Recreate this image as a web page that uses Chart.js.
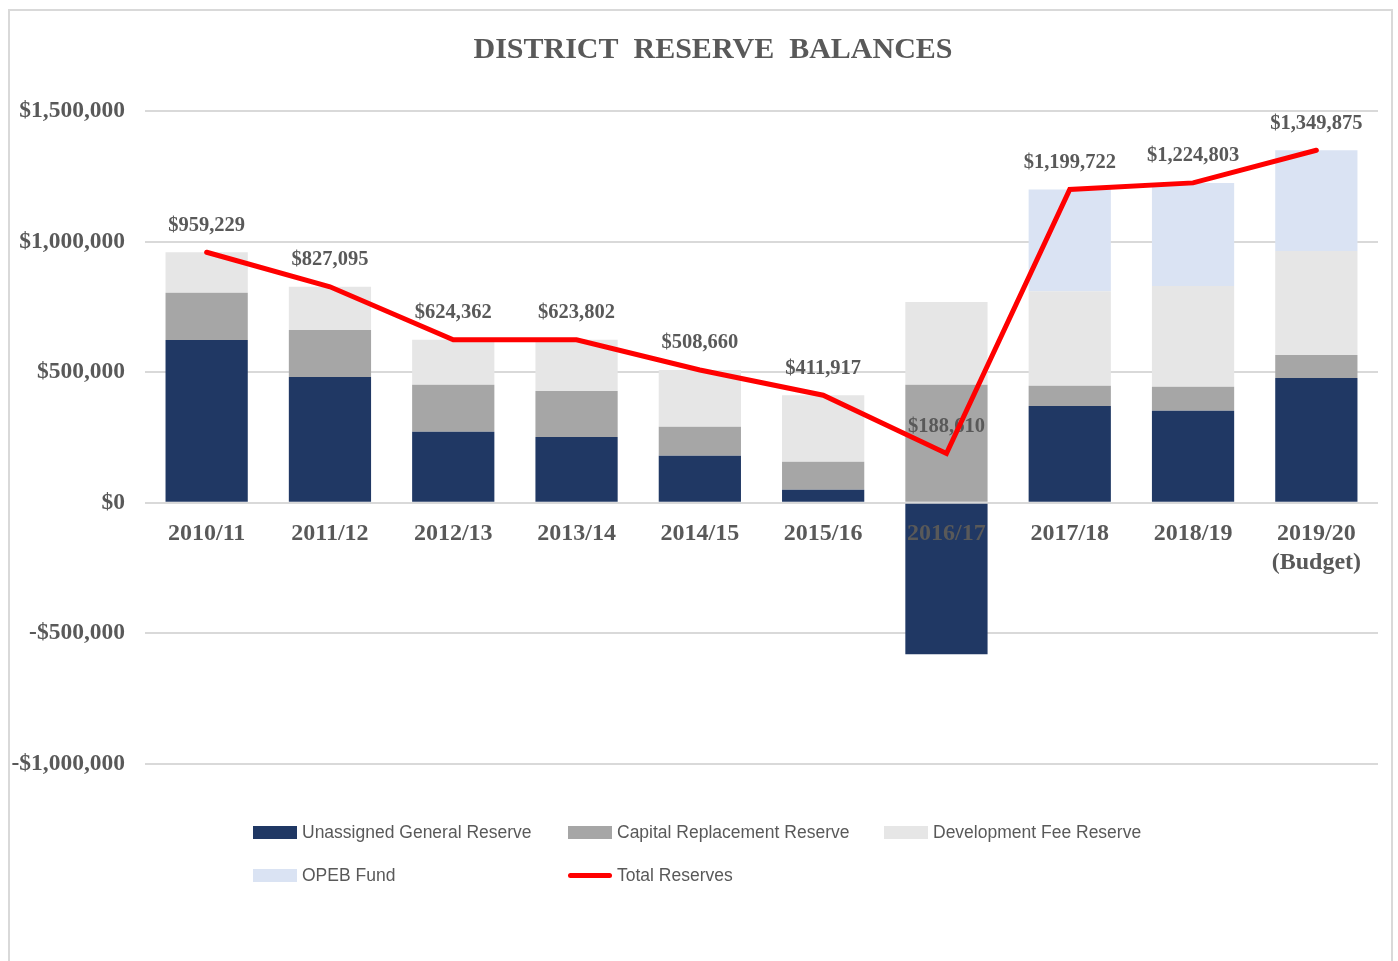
<!DOCTYPE html>
<html>
<head>
<meta charset="utf-8">
<script src="https://cdn.jsdelivr.net/npm/chart.js@4"></script>
<style>
  html, body { margin: 0; padding: 0; background: #fff; }
  #wrap { position: relative; width: 1398px; height: 961px; overflow: hidden; }
  #frame { position: absolute; left: 8px; top: 9px; width: 1385px; height: 970px; border: 2px solid #d9d9d9; box-sizing: border-box; }
  canvas { position: absolute; left: 0; top: 0; }
  #legend { position: absolute; left: 253px; top: 818px; display: grid; grid-template-columns: 315px 316px 316px; row-gap: 15px;
    font-family: 'Liberation Sans', sans-serif; font-size: 17.5px; color: #595959; }
  .item { display: flex; align-items: center; height: 28px; }
  .sw { width: 44px; height: 13px; margin-right: 5px; }
  .ln { width: 44px; height: 5px; border-radius: 3px; margin-right: 5px; }
</style>
</head>
<body>
<div id="wrap">
  <div id="frame"></div>
  <canvas id="reserve-chart" width="1398" height="961"></canvas>
  <div id="legend"></div>
</div>
<script>
var years = ['2010/11', '2011/12', '2012/13', '2013/14', '2014/15', '2015/16', '2016/17', '2017/18', '2018/19', ['2019/20', '(Budget)']];
var unassigned = [623000, 482000, 272000, 252000, 180000, 50000, -580000, 371000, 352000, 478000];
var capital = [181000, 180000, 180000, 176000, 111000, 107000, 452000, 77000, 92000, 88000];
var development = [155229, 165095, 172362, 195802, 217660, 254917, 316610, 362000, 386000, 398000];
var opeb = [0, 0, 0, 0, 0, 0, 0, 389722, 394803, 385875];
var totals = [959229, 827095, 624362, 623802, 508660, 411917, 188610, 1199722, 1224803, 1349875];

var chartTitle = 'DISTRICT  RESERVE  BALANCES';
var serif = "'Liberation Serif', 'Times New Roman', serif";
var textGray = '#595959';

function money(v) {
  var s = '$' + Math.abs(v).toLocaleString('en-US');
  return v < 0 ? '-' + s : s;
}

// title sits a little right of the canvas centre, like the original
const titleText = {
  id: 'titleText',
  afterDraw(chart) {
    var ctx = chart.ctx;
    ctx.save();
    ctx.font = 'bold 30px ' + serif;
    ctx.fillStyle = textGray;
    ctx.textAlign = 'center';
    ctx.textBaseline = 'middle';
    ctx.fillText(chartTitle, 713, 50);
    ctx.restore();
  }
};

// labels for the total line: after the bars, before the red line
const totalLabels = {
  id: 'totalLabels',
  beforeDatasetDraw(chart, args) {
    if (args.index !== 4) return;
    var meta = args.meta;
    var ctx = chart.ctx;
    ctx.save();
    ctx.font = 'bold 20.5px ' + serif;
    ctx.fillStyle = textGray;
    ctx.textAlign = 'center';
    ctx.textBaseline = 'middle';
    meta.data.forEach(function (pt, i) {
      ctx.fillText(money(totals[i]), pt.x, pt.y - 27);
    });
    ctx.restore();
  }
};

var ctx = document.getElementById('reserve-chart').getContext('2d');
var myChart = new Chart(ctx, {
  type: 'bar',
  data: {
    labels: years,
    datasets: [
      { label: 'Unassigned General Reserve', data: unassigned, backgroundColor: '#203864', stack: 'bars', order: 2 },
      { label: 'Capital Replacement Reserve', data: capital, backgroundColor: '#a6a6a6', stack: 'bars', order: 2 },
      { label: 'Development Fee Reserve', data: development, backgroundColor: '#e6e6e6', stack: 'bars', order: 2 },
      { label: 'OPEB Fund', data: opeb, backgroundColor: '#dae3f3', stack: 'bars', order: 2 },
      { label: 'Total Reserves', type: 'line', data: totals, borderColor: '#ff0000', borderWidth: 5,
        pointRadius: 0, tension: 0, stack: 'total', order: 1, borderCapStyle: 'round' }
    ]
  },
  options: {
    responsive: false,
    animation: false,
    barPercentage: 0.667,
    categoryPercentage: 1,
    layout: { padding: { top: 111, right: 20, bottom: 197, left: 0 } },
    plugins: {
      legend: { display: false },
      tooltip: { enabled: false },
      title: { display: false }
    },
    scales: {
      x: {
        stacked: true,
        position: { y: 0 },
        grid: { display: false, drawTicks: false },
        border: { display: false },
        ticks: { z: 1, color: textGray, font: { family: serif, size: 24, weight: 'bold' }, padding: 17, maxRotation: 0 }
      },
      y: {
        stacked: true,
        min: -1000000,
        max: 1500000,
        afterFit: function (scale) { scale.width = 145; },
        ticks: {
          stepSize: 500000,
          padding: 20,
          color: textGray,
          font: { family: serif, size: 23.5, weight: 'bold' },
          callback: function (v) { return money(v); }
        },
        grid: { color: '#d9d9d9', lineWidth: 2, drawTicks: false },
        border: { display: false }
      }
    }
  },
  plugins: [totalLabels, titleText]
});

// legend laid out as a grid like the original
var legend = document.getElementById('legend');
myChart.data.datasets.forEach(function (ds) {
  var item = document.createElement('div');
  item.className = 'item';
  var sw = document.createElement('span');
  if (ds.type === 'line') {
    sw.className = 'ln';
    sw.style.background = ds.borderColor;
  } else {
    sw.className = 'sw';
    sw.style.background = ds.backgroundColor;
  }
  item.appendChild(sw);
  item.appendChild(document.createTextNode(ds.label));
  legend.appendChild(item);
});
</script>
</body>
</html>
